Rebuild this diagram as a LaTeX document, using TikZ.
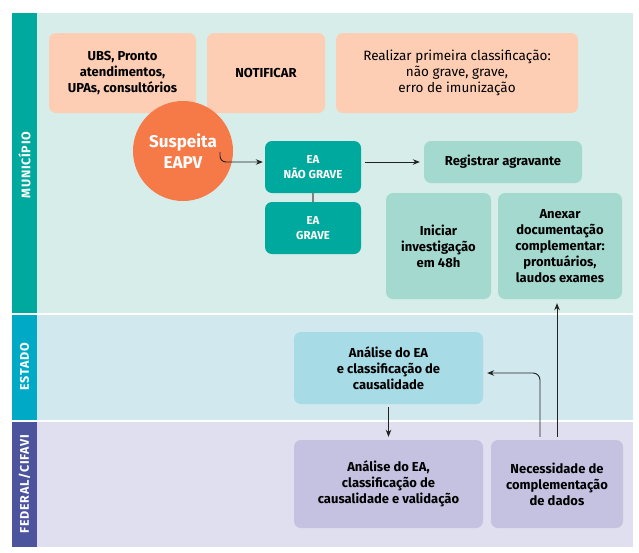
\documentclass[tikz,border=0pt]{standalone}
\usepackage{fontspec}
\setmainfont{Fira Sans}
\newfontfamily\lanefont[LetterSpace=6]{Fira Sans}
\usetikzlibrary{calc}
\usetikzlibrary{arrows, arrows.meta}

\definecolor{munstrip}{HTML}{00A99D}
\definecolor{munback}{HTML}{D6EDE9}
\definecolor{eststrip}{HTML}{00AAC6}
\definecolor{estback}{HTML}{D0E8EE}
\definecolor{fedstrip}{HTML}{4B549C}
\definecolor{fedback}{HTML}{E0DFEF}
\definecolor{peach}{HTML}{FDCEB3}
\definecolor{eapvorange}{HTML}{F67A48}
\definecolor{lightteal}{HTML}{A3D9CF}
\definecolor{lightcyan}{HTML}{A7DBE6}
\definecolor{lilac}{HTML}{C5C1E1}
\definecolor{flowink}{HTML}{222222}

\begin{document}
\begin{tikzpicture}[x=1pt, y=-1pt]

\useasboundingbox (0, 0) rectangle (639, 552) ;

% lanes

\def\stripleft{12}
\def\stripright{37}
\def\laneright{633}

\tikzstyle{lane label} = [rotate=90, text=white, font=\lanefont\bfseries\fontsize{12.5}{14}\selectfont]

\fill [munstrip] (\stripleft, 13) rectangle (\stripright, 313) ;
\fill [munback] (\stripright, 13) rectangle (\laneright, 313) ;

\fill [eststrip] (\stripleft, 315) rectangle (\stripright, 420) ;
\fill [estback] (\stripright, 315) rectangle (\laneright, 420) ;

\fill [fedstrip] (\stripleft, 422) rectangle (\stripright, 547) ;
\fill [fedback] (\stripright, 422) rectangle (\laneright, 547) ;

\node [lane label] (municipio) at (24.5, 165) {MUNICÍPIO} ;
\node [lane label] (estado) at (24.5, 367) {ESTADO} ;
\node [lane label] (federal) at (24.5, 484) {FEDERAL/CIFAVI} ;

% boxes

\tikzstyle{flow box} = [rounded corners=7pt, align=center, inner sep=2pt, text=black,
	font=\bfseries\fontsize{13}{16}\selectfont]
\tikzstyle{peach box} = [flow box, fill=peach]
\tikzstyle{dark box} = [flow box, fill=munstrip, text=white, font=\bfseries\fontsize{11.5}{15}\selectfont]
\tikzstyle{teal box} = [flow box, fill=lightteal]
\tikzstyle{state box} = [flow box, fill=lightcyan]
\tikzstyle{federal box} = [flow box, fill=lilac]

\node [peach box, minimum width=147, minimum height=80] (ubs) at (122.5, 73)
	{UBS, Pronto\\atendimentos,\\UPAs, consultórios} ;
\node [peach box, minimum width=118, minimum height=80] (notificar) at (266, 73) {NOTIFICAR} ;
\node [peach box, minimum width=242, minimum height=80, font=\fontsize{13.5}{16}\selectfont] (classificar) at (457, 73)
	{Realizar primeira classificação:\\não grave, grave,\\erro de imunização} ;

\node [shape=circle, fill=eapvorange, minimum size=100, inner sep=0pt, align=center, text=white,
	font=\bfseries\fontsize{17}{21}\selectfont] (suspeita) at (183, 151) {Suspeita\\EAPV} ;

\node [dark box, minimum width=96, minimum height=52] (naograve) at (313, 167) {EA\\NÃO GRAVE} ;
\node [dark box, minimum width=96, minimum height=52] (grave) at (313, 228) {EA\\GRAVE} ;

\node [teal box, minimum width=158, minimum height=42] (registrar) at (503, 162) {Registrar agravante} ;
\node [teal box, minimum width=105, minimum height=106] (iniciar) at (438.5, 246)
	{Iniciar\\investigação\\em 48h} ;
\node [teal box, minimum width=124, minimum height=106] (anexar) at (560, 246)
	{Anexar\\documentação\\complementar:\\prontuários,\\laudos exames} ;

\node [state box, minimum width=189, minimum height=72] (analiseestado) at (388.5, 368)
	{Análise do EA\\e classificação de\\causalidade} ;

\node [federal box, minimum width=189, minimum height=88] (analisefederal) at (388.5, 484)
	{Análise do EA,\\classificação de\\causalidade e validação} ;
\node [federal box, minimum width=132, minimum height=88] (necessidade) at (557, 484)
	{Necessidade de\\complementação\\de dados} ;

% connectors

\tikzstyle{flow line} = [line width=0.9pt, color=flowink, -{Stealth[length=7pt, width=5.5pt]}]

\coordinate (eapvstart) at ($(suspeita.center) + (37, 1)$) ;
\draw [flow line, rounded corners=6pt] (eapvstart) |- ($(naograve.west) + (-2, -5)$) ;

\draw [line width=1.5pt, color=gray] (naograve.south) -- (grave.north) ;

\draw [flow line, shorten <=4pt, shorten >=4pt] (naograve.east |- registrar.west) -- (registrar.west) ;

\draw [flow line, shorten <=3pt, shorten >=3pt] (analiseestado.south) -- (analisefederal.north) ;

\coordinate (retorno) at ($(necessidade.north) + (-17, -3)$) ;
\draw [flow line, rounded corners=7pt] (retorno) |- ($(analiseestado.east) + (4, 5)$) ;

\draw [flow line, shorten <=3pt, shorten >=4pt] (necessidade.north) -- (necessidade.north |- anexar.south) ;

\end{tikzpicture}
\end{document}
